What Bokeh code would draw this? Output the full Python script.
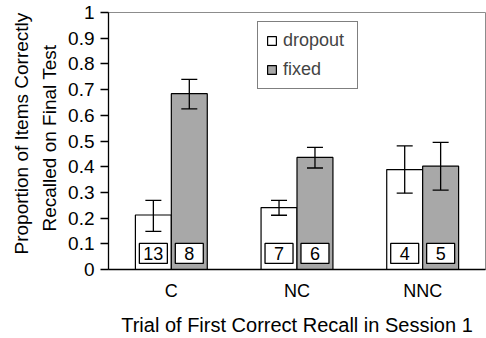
from bokeh.plotting import figure
from bokeh.models import ColumnDataSource, FactorRange, Range1d, Whisker, Legend, LegendItem, SingleIntervalTicker, Title
from bokeh.transform import dodge
from bokeh.core.properties import value
from bokeh.embed import file_html
from bokeh.resources import INLINE

categories = ["C", "NC", "NNC"]
dropout = [0.212, 0.241, 0.389]
dropout_lo = [0.148, 0.211, 0.297]
dropout_hi = [0.269, 0.269, 0.481]
fixed = [0.684, 0.436, 0.402]
fixed_lo = [0.625, 0.395, 0.309]
fixed_hi = [0.740, 0.475, 0.495]
dropout_n = ["13", "7", "4"]
fixed_n = ["8", "6", "5"]
y_title_lines = ["Recalled on Final Test", "Proportion of Items Correctly"]

FONT = "Liberation Sans"
GRAY = "#a8a8a8"
OFF = 0.143
BW = 0.286

src = ColumnDataSource(dict(
    cat=categories, dropout=dropout, dlo=dropout_lo, dhi=dropout_hi,
    fixed=fixed, flo=fixed_lo, fhi=fixed_hi, dn=dropout_n, fn=fixed_n,
    ny=[0.0625] * 3,
))

p = figure(width=486, height=338, x_range=FactorRange(factors=categories, range_padding=0),
           y_range=Range1d(0, 1), output_backend="svg", toolbar_location=None,
           min_border_left=108, min_border_right=1, min_border_top=12, min_border_bottom=62)

r1 = p.vbar(x=dodge("cat", -OFF, range=p.x_range), top="dropout", width=BW, source=src,
            fill_color="white", line_color="black", line_width=1.2)
r2 = p.vbar(x=dodge("cat", OFF, range=p.x_range), top="fixed", width=BW, source=src,
            fill_color=GRAY, line_color="black", line_width=1.2)

for base, lo, hi in [(dodge("cat", -OFF, range=p.x_range), "dlo", "dhi"),
                     (dodge("cat", OFF, range=p.x_range), "flo", "fhi")]:
    w = Whisker(base=base, lower=lo, upper=hi, source=src, line_color="black",
                line_width=1.3, level="overlay")
    w.upper_head.size = 16
    w.lower_head.size = 16
    w.upper_head.line_width = 1.3
    w.lower_head.line_width = 1.3
    p.add_layout(w)

for xoff, col in [(-OFF, "dn"), (OFF, "fn")]:
    p.rect(x=dodge("cat", xoff, range=p.x_range), y="ny", width=28, height=20,
           width_units="screen", height_units="screen", source=src,
           fill_color="white", line_color="black", line_width=1.3)
    p.text(x=dodge("cat", xoff, range=p.x_range), y="ny", text=col, source=src,
           text_align="center", text_baseline="middle", text_font=value(FONT),
           text_font_size="18px", text_color="black")

legend = Legend(items=[LegendItem(label="dropout", renderers=[r1]),
                       LegendItem(label="fixed", renderers=[r2])],
                location=(149, 180), orientation="vertical",
                glyph_width=11, glyph_height=11, label_text_font=FONT,
                label_text_font_size="18px", label_standoff=6, label_width=66, spacing=8,
                padding=8, margin=0, border_line_color="black", border_line_width=1.5,
                background_fill_color="white", background_fill_alpha=1)
p.add_layout(legend)

p.xgrid.grid_line_color = None
p.ygrid.grid_line_color = None
p.outline_line_color = "#8c8c8c"
p.outline_line_width = 1

p.yaxis.ticker = SingleIntervalTicker(interval=0.1)
p.yaxis.major_label_overrides = {0: "0", 1: "1"}
p.yaxis.axis_line_color = "black"
p.yaxis.axis_line_width = 1.3
p.yaxis.major_tick_line_width = 1.3
p.yaxis.major_tick_out = 8
p.yaxis.major_tick_in = 0
p.yaxis.minor_tick_line_color = None
p.yaxis.major_label_text_font = FONT
p.yaxis.major_label_text_font_size = "19px"
p.yaxis.major_label_text_color = "black"
p.yaxis.major_label_standoff = 6

for line, off, so in zip(y_title_lines, [38, 15], [11, 0]):
    t = Title(text=line, align="left", offset=off, text_font=FONT,
              text_font_style="normal", text_font_size="19px", text_color="black",
              standoff=so)
    p.add_layout(t, "left")

p.xaxis.axis_line_color = "black"
p.xaxis.axis_line_width = 1.3
p.xaxis.major_tick_line_color = None
p.xaxis.minor_tick_line_color = None
p.xaxis.major_label_text_font = FONT
p.xaxis.major_label_text_font_size = "18px"
p.xaxis.major_label_text_color = "black"
p.xaxis.major_label_standoff = 5
p.xaxis.axis_label = "Trial of First Correct Recall in Session 1"
p.xaxis.axis_label_text_font = FONT
p.xaxis.axis_label_text_font_style = "normal"
p.xaxis.axis_label_text_font_size = "20px"
p.xaxis.axis_label_text_color = "black"
p.xaxis.axis_label_standoff = 10

open("out.html", "w").write(file_html(p, INLINE))
